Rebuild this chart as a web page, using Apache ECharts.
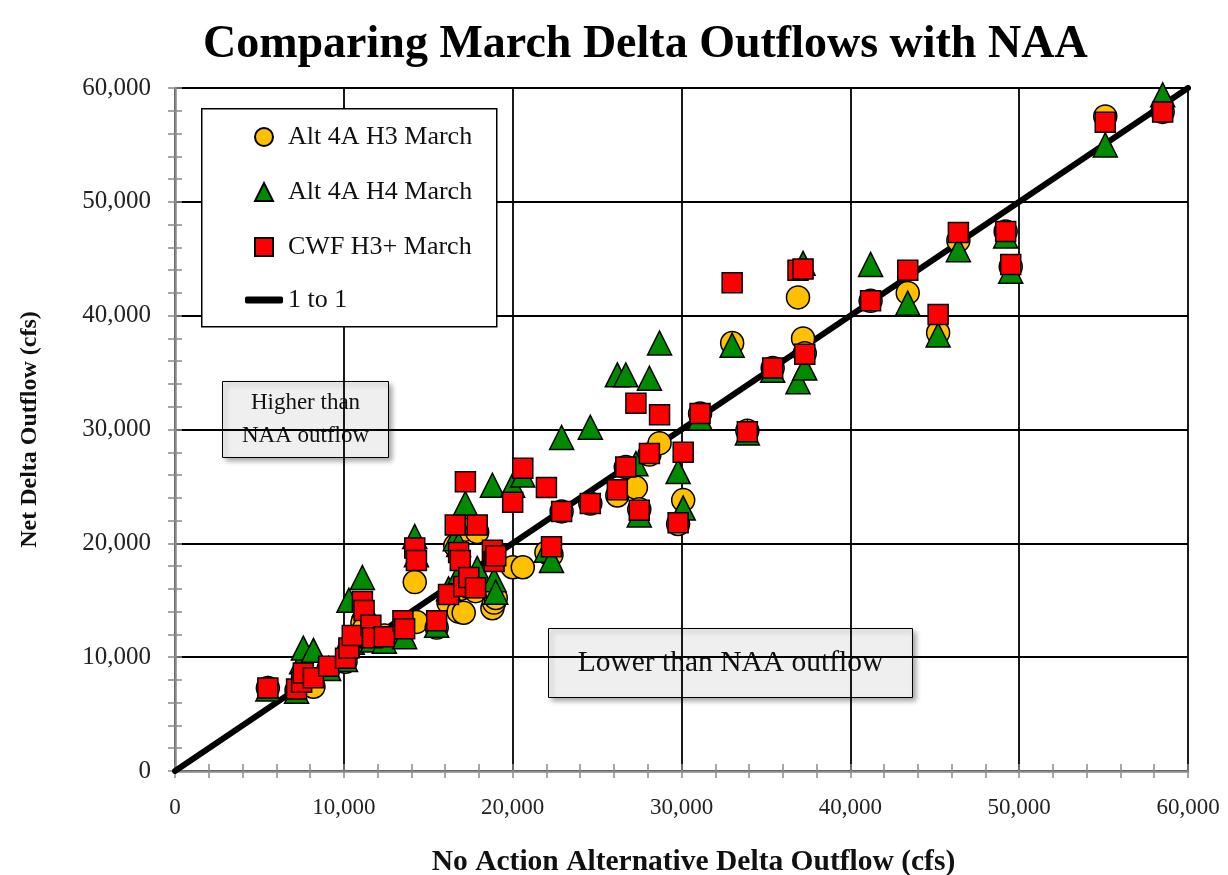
<!DOCTYPE html>
<html>
<head>
<meta charset="utf-8">
<script src="https://cdn.jsdelivr.net/npm/echarts@6/dist/echarts.min.js"></script>
<style>html,body{margin:0;padding:0;background:#fff}#c{width:1228px;height:875px}</style>
</head>
<body>
<div id="c"></div>
<script>
// No Action Alternative Delta outflow (x) for each year
var naa = [5500, 7200, 7500, 7600, 8200, 9100, 10100, 10300, 10500, 11100, 11200, 11600, 11700, 12400, 13500, 13600, 14200, 14300, 15500, 16200, 16600, 16800, 16900, 17100, 17200, 17400, 17800, 17900, 18800, 18900, 19000, 20000, 20600, 22000, 22300, 22900, 24600, 26200, 26700, 27300, 27500, 28100, 28700, 29800, 30100, 31100, 33000, 33900, 35400, 36900, 37200, 37300, 41200, 43400, 45200, 46400, 49200, 49500, 55100, 58500];
var altH3 = [7300, 7100, 7500, 8400, 7400, 9000, 9600, 10600, 11200, 13000, 12500, 12300, 11800, 11900, 12600, 12800, 16600, 13100, 12600, 14800, 19800, 14000, 16000, 13900, 21200, 16500, 15800, 21000, 14300, 14800, 15200, 17900, 17900, 19200, 19000, 22800, 23500, 24200, 26700, 24900, 23000, 27800, 28800, 21700, 23800, 31400, 37600, 29900, 35400, 41600, 38000, 36700, 41300, 42000, 38500, 46600, 47400, 44300, 57500, 57900];
var altH4 = [7200, 7000, 9600, 10800, 10600, 9000, 9800, 15000, 11300, 17000, 14600, 12000, 11500, 11400, 12100, 11800, 20600, 19000, 12800, 16000, 20400, 19900, 17500, 16500, 23500, 17200, 16300, 17800, 25100, 16800, 15700, 25100, 26000, 19400, 18500, 29300, 30200, 34800, 34800, 27000, 22500, 34500, 37600, 26300, 23100, 31000, 37400, 29700, 35200, 34200, 44600, 35400, 44500, 41100, 38300, 45800, 47000, 43900, 55000, 59400];
var cwf = [7300, 7200, 7800, 8600, 8200, 9200, 9900, 10800, 11900, 14900, 14100, 12800, 11700, 11800, 13200, 12500, 19600, 18500, 13200, 15500, 21600, 19200, 18500, 16200, 25400, 17000, 16100, 21600, 19400, 18400, 18900, 23600, 26600, 24900, 19700, 22800, 23500, 24700, 26700, 32300, 22900, 27900, 31300, 21800, 28000, 31400, 42900, 29800, 35400, 44000, 44100, 36600, 41300, 44000, 40100, 47300, 47400, 44500, 57000, 57900];
var oneToOne = [0, 60000];
var axisTicks = [0, 10000, 20000, 30000, 40000, 50000, 60000];

var FONT = 'Liberation Serif';
function fmt(v) { return String(v).replace(/\B(?=(\d{3})+(?!\d))/g, ','); }
function pairs(ys) { return naa.map(function (x, i) { return [x, ys[i]]; }); }

var chart = echarts.init(document.getElementById('c'));
var axisMin = axisTicks[0], axisMax = axisTicks[axisTicks.length - 1], step = axisTicks[1] - axisTicks[0];

function mainAxis(extra) {
  var a = {
    type: 'value', min: axisMin, max: axisMax, interval: step,
    axisLine: { show: true, onZero: false, lineStyle: { color: '#8a8a8a', width: 2.5 } },
    axisTick: { show: true, inside: false, length: 7, lineStyle: { color: '#8a8a8a', width: 1.5 } },
    minorTick: { show: true, splitNumber: 5, length: 7, lineStyle: { color: '#8a8a8a', width: 1.5 } },
    splitLine: { show: true, lineStyle: { color: '#000', width: 1.8 } }
  };
  for (var k in extra) a[k] = extra[k];
  return a;
}
function innerAxis(extra) {
  var a = {
    type: 'value', min: axisMin, max: axisMax, interval: step,
    axisLine: { show: false },
    axisTick: { show: true, inside: true, length: 7, lineStyle: { color: '#8a8a8a', width: 1.5 } },
    minorTick: { show: true, splitNumber: 5, length: 7, lineStyle: { color: '#8a8a8a', width: 1.5 } },
    splitLine: { show: false },
    axisLabel: { show: false }
  };
  for (var k in extra) a[k] = extra[k];
  return a;
}

var mk = function (name, ys, symbol, size, color, z) {
  return {
    name: name, type: 'scatter', data: pairs(ys), symbol: symbol, symbolSize: size, z: z,
    itemStyle: { color: color, borderColor: '#000', borderWidth: 1.5, opacity: 1 },
    emphasis: { disabled: true }
  };
};

var legendText = { fontFamily: FONT, fontSize: 26, lineHeight: 26, color: '#111', padding: [0, 0, 0, 10] };

chart.setOption({
  animation: false,
  backgroundColor: '#fff',
  title: {
    text: 'Comparing March Delta Outflows with NAA',
    left: 198, top: 17,
    textStyle: { fontFamily: FONT, fontWeight: 'bold', fontSize: 46, color: '#000' }
  },
  grid: { left: 175, right: 40, top: 88, bottom: 104, containLabel: false, outerBoundsMode: 'none' },
  xAxis: [
    mainAxis({
      position: 'bottom',
      name: 'No Action Alternative Delta Outflow (cfs)', nameLocation: 'middle', nameGap: 76,
      nameTextStyle: { fontFamily: FONT, fontWeight: 'bold', fontSize: 29.5, color: '#111', padding: [0, 0, 0, 24] },
      axisLabel: { fontFamily: FONT, fontSize: 23, color: '#222', formatter: fmt, margin: 25 }
    }),
    innerAxis({ position: 'bottom' })
  ],
  yAxis: [
    mainAxis({
      position: 'left',
      name: 'Net Delta Outflow (cfs)', nameLocation: 'middle', nameGap: 133, nameRotate: 90,
      nameTextStyle: { fontFamily: FONT, fontWeight: 'bold', fontSize: 24, color: '#111' },
      axisLabel: { fontFamily: FONT, fontSize: 25, color: '#222', formatter: fmt, margin: 24 }
    }),
    innerAxis({ position: 'left' })
  ],
  legend: [
    {
      orient: 'vertical', left: 254, top: 124, padding: 0, z: 10,
      itemGap: 29, itemWidth: 18, itemHeight: 18,
      textStyle: legendText, selectedMode: false,
      data: [
        { name: 'Alt 4A H3 March', icon: 'circle' },
        { name: 'Alt 4A H4 March', icon: 'triangle' },
        { name: 'CWF H3+ March', icon: 'rect' }
      ]
    },
    {
      orient: 'vertical', left: 245, top: 287, padding: 0, z: 10,
      itemWidth: 38, itemHeight: 7,
      textStyle: { fontFamily: FONT, fontSize: 26, lineHeight: 26, color: '#111', padding: [0, 0, 0, 0] },
      selectedMode: false,
      data: [{ name: '1 to 1', icon: 'roundRect' }]
    }
  ],
  graphic: [
    { type: 'rect', left: 201, top: 108, z: 1, shape: { width: 295, height: 218 },
      style: { fill: '#fff', stroke: '#000', lineWidth: 1.5 } },
    {
      type: 'group', left: 222, top: 381, z: 1, children: [
        { type: 'rect', shape: { x: 0, y: 0, width: 166, height: 76 },
          style: { fill: '#efefef', stroke: '#000', lineWidth: 1, shadowBlur: 5, shadowOffsetX: 3, shadowOffsetY: 3, shadowColor: 'rgba(0,0,0,0.35)' } },
        { type: 'text', x: 83, y: 38,
          style: { text: 'Higher than\nNAA outflow', fontFamily: FONT, fontSize: 23, fill: '#111', align: 'center', verticalAlign: 'middle', lineHeight: 33 } }
      ]
    },
    {
      type: 'group', left: 548, top: 628, z: 1, children: [
        { type: 'rect', shape: { x: 0, y: 0, width: 364, height: 69 },
          style: { fill: '#efefef', stroke: '#000', lineWidth: 1, shadowBlur: 5, shadowOffsetX: 3, shadowOffsetY: 3, shadowColor: 'rgba(0,0,0,0.35)' } },
        { type: 'text', x: 182, y: 35,
          style: { text: 'Lower than NAA outflow', fontFamily: FONT, fontSize: 29.5, fill: '#111', align: 'center', verticalAlign: 'middle' } }
      ]
    }
  ],
  series: [
    {
      name: '1 to 1', type: 'line', data: oneToOne.map(function (v) { return [v, v]; }),
      symbol: 'none', z: 1, lineStyle: { color: '#000', width: 6, cap: 'round' }, itemStyle: { color: '#000' },
      emphasis: { disabled: true }
    },
    mk('Alt 4A H3 March', altH3, 'circle', 23, '#FFC000', 2),
    mk('Alt 4A H4 March', altH4, 'triangle', 24, '#008A00', 3),
    mk('CWF H3+ March', cwf, 'rect', 20, '#FF0000', 4)
  ]
});
</script>
</body>
</html>
